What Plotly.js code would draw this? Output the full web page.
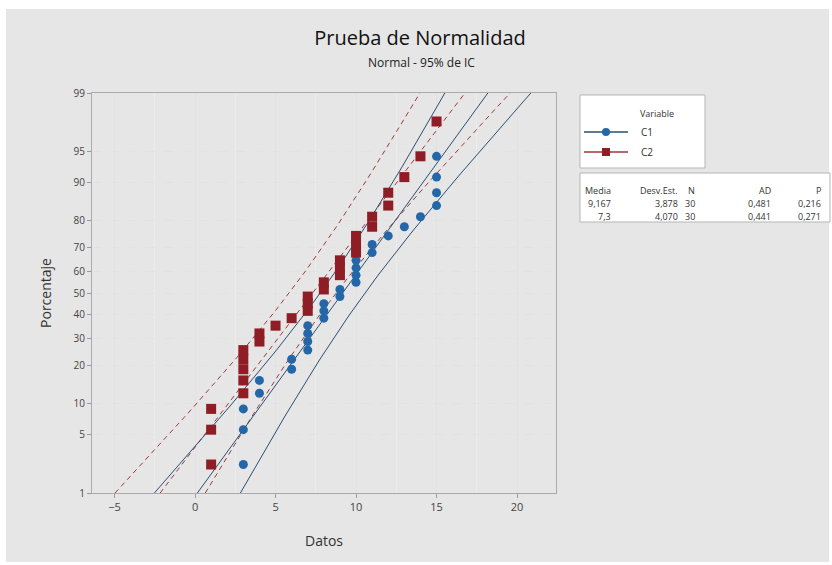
<!DOCTYPE html>
<html><head><meta charset="utf-8">
<script src="https://cdn.plot.ly/plotly-3.0.1.min.js"></script>
<style>html,body{margin:0;padding:0;background:#fff}#chart{width:832px;height:565px}</style>
</head><body><div id="chart"></div>
<script>
// ---- data ----
const variables = ['C1', 'C2'];
const c1Values = [3,3,3,4,4,6,6,7,7,7,7,8,8,8,9,9,10,10,10,10,11,11,12,13,14,15,15,15,15,15];
const c2Values = [1,1,1,3,3,3,3,3,4,4,5,6,7,7,7,8,8,9,9,9,10,10,10,11,11,12,12,13,14,15];
const percentTicks = [1,5,10,20,30,40,50,60,70,80,90,95,99];
const xTickVals = [-5,0,5,10,15,20];
const statsHeader = ['Media','Desv.Est.','N','AD','P'];
const statsC1 = ['9,167','3,878','30','0,481','0,216'];
const statsC2 = ['7,3','4,070','30','0,441','0,271'];

// ---- inverse normal CDF (probability axis transform) ----
function invNorm(p){
  const a=[-3.969683028665376e+01,2.209460984245205e+02,-2.759285104469687e+02,1.383577518672690e+02,-3.066479806614716e+01,2.506628277459239e+00];
  const b=[-5.447609879822406e+01,1.615858368580409e+02,-1.556989798598866e+02,6.680131188771972e+01,-1.328068155288572e+01];
  const c=[-7.784894002430293e-03,-3.223964580411365e-01,-2.400758277161838e+00,-2.549732539343734e+00,4.374664141464968e+00,2.938163982698783e+00];
  const d=[7.784695709041462e-03,3.224671290700398e-01,2.445134137142996e+00,3.754408661907416e+00];
  const pl=0.02425, ph=1-pl; let q,r;
  if(p<pl){q=Math.sqrt(-2*Math.log(p));return (((((c[0]*q+c[1])*q+c[2])*q+c[3])*q+c[4])*q+c[5])/((((d[0]*q+d[1])*q+d[2])*q+d[3])*q+1);}
  if(p>ph){q=Math.sqrt(-2*Math.log(1-p));return -(((((c[0]*q+c[1])*q+c[2])*q+c[3])*q+c[4])*q+c[5])/((((d[0]*q+d[1])*q+d[2])*q+d[3])*q+1);}
  q=p-0.5;r=q*q;return (((((a[0]*r+a[1])*r+a[2])*r+a[3])*r+a[4])*r+a[5])*q/(((((b[0]*r+b[1])*r+b[2])*r+b[3])*r+b[4])*r+1);
}

const zLo = invNorm(0.01), zHi = invNorm(0.99);

function probPoints(vals){
  const s = vals.slice().sort((a,b)=>a-b), n = s.length;
  return {x: s, y: s.map((v,i)=>invNorm((i+1-0.3)/(n+0.4)))};
}
function stats(vals){
  const n=vals.length, m=vals.reduce((a,b)=>a+b,0)/n;
  const sd=Math.sqrt(vals.reduce((a,b)=>a+(b-m)*(b-m),0)/(n-1));
  return {n,m,sd};
}
function fitCurves(vals){
  const {n,m,sd}=stats(vals), zc=1.959964, K=80;
  const zs=[], fit=[], lo=[], hi=[];
  for(let k=0;k<=K;k++){
    const z=zLo+(zHi-zLo)*k/K; zs.push(z);
    const c=m+z*sd, h=zc*sd*Math.sqrt(1/n+z*z/(2*n));
    fit.push(c); lo.push(c-h); hi.push(c+h);
  }
  return {zs,fit,lo,hi};
}

const colC1='#2467a8', colC2='#8e1d26', lineC1='#2a4f73', lineC2='#a0373a';
const traces=[];
[[c2Values,lineC2,'5px,4px'],[c1Values,lineC1,'solid']].forEach(([vals,col,dash])=>{
  const f=fitCurves(vals);
  [f.lo,f.fit,f.hi].forEach(xs=>traces.push({type:'scatter',mode:'lines',x:xs,y:f.zs,
    line:{color:col,width:1,dash:dash},showlegend:false,hoverinfo:'skip'}));
});
const p1=probPoints(c1Values), p2=probPoints(c2Values);
traces.push({type:'scatter',mode:'markers',name:variables[0],x:p1.x,y:p1.y,
  marker:{symbol:'circle',size:9,color:colC1},showlegend:false});
traces.push({type:'scatter',mode:'markers',name:variables[1],x:p2.x,y:p2.y,
  marker:{symbol:'square',size:10,color:colC2},showlegend:false});

// ---- layout helpers (pixel -> paper) ----
const L=92,R=556,T=93,B=493;
const px=x=>(x-L)/(R-L), py=y=>(B-y)/(B-T);
const font="'Open Sans', 'DejaVu Sans', sans-serif";

const shapes=[
  {type:'rect',xref:'paper',yref:'paper',x0:px(6),x1:px(829),y0:py(562),y1:py(9),fillcolor:'#e6e6e6',line:{width:0},layer:'below'},
  // legend box
  {type:'rect',xref:'paper',yref:'paper',x0:px(580),x1:px(705),y0:py(168),y1:py(95),fillcolor:'#ffffff',line:{color:'#b5b5b5',width:1}},
  {type:'line',xref:'paper',yref:'paper',x0:px(584),x1:px(628),y0:py(132),y1:py(132),line:{color:lineC1,width:1.5}},
  {type:'circle',xref:'paper',yref:'paper',x0:px(602),x1:px(610),y0:py(136),y1:py(128),fillcolor:colC1,line:{width:0}},
  {type:'line',xref:'paper',yref:'paper',x0:px(584),x1:px(628),y0:py(152),y1:py(152),line:{color:lineC2,width:1.5}},
  {type:'rect',xref:'paper',yref:'paper',x0:px(602),x1:px(610),y0:py(156),y1:py(148),fillcolor:colC2,line:{width:0}},
  // stats box
  {type:'rect',xref:'paper',yref:'paper',x0:px(580),x1:px(830),y0:py(222),y1:py(173),fillcolor:'#ffffff',line:{color:'#b5b5b5',width:1}}
];

const ann=[];
function addText(t,x,y,size,anchor,color){
  ann.push({text:t,xref:'paper',yref:'paper',x:px(x),y:py(y),xanchor:anchor||'left',yanchor:'middle',
    showarrow:false,font:{family:font,size:size,color:color||'#333'}});
}
addText('Normal - 95% de IC',421,62,12,'center','#222');
addText('Variable',638,113,9,'left');
addText(variables[0],639,132,10,'left');
addText(variables[1],639,152,10,'left');
const colRight=[613,680,697,773,823];
statsHeader.forEach((h,i)=>addText(h,colRight[i],190,9,'right'));
statsC1.forEach((h,i)=>addText(h,colRight[i],203,9,'right'));
statsC2.forEach((h,i)=>addText(h,colRight[i],216,9,'right'));

const layout={
  width:832,height:565,
  margin:{l:L,r:832-R,t:T,b:565-B,pad:0},
  paper_bgcolor:'#ffffff',plot_bgcolor:'#ffffff',
  font:{family:font,color:'#333'},
  title:{text:'Prueba de Normalidad',x:420/832,xanchor:'center',y:1-38/565,yanchor:'middle',
    font:{family:font,size:20,color:'#111'}},
  xaxis:{range:[-6.4,22.42],tickmode:'array',tickvals:xTickVals,ticks:'outside',ticklen:4,tickcolor:'#999',
    showline:true,linecolor:'#aaaaaa',mirror:true,zeroline:false,
    showgrid:true,gridcolor:'#e2e2e2',
    minor:{tickmode:'linear',tick0:0,dtick:2.5,showgrid:true,gridcolor:'#ececec'},
    tickfont:{family:font,size:11,color:'#444'},
    title:{text:'Datos',font:{family:font,size:14,color:'#333'},standoff:22}},
  yaxis:{range:[zLo-1e-9,zHi+1e-9],tickmode:'array',tickvals:percentTicks.map(p=>invNorm(p/100)),
    ticktext:percentTicks.map(String),ticks:'outside',ticklen:4,tickcolor:'#999',
    showline:true,linecolor:'#aaaaaa',mirror:true,zeroline:false,
    showgrid:true,gridcolor:'#e2e2e2',griddash:'dash',
    tickfont:{family:font,size:10,color:'#444'},
    title:{text:'Porcentaje',font:{family:font,size:14,color:'#333'},standoff:18}},
  shapes:shapes,annotations:ann,showlegend:false
};
Plotly.newPlot('chart',traces,layout,{displayModeBar:false,staticPlot:true});
</script></body></html>
